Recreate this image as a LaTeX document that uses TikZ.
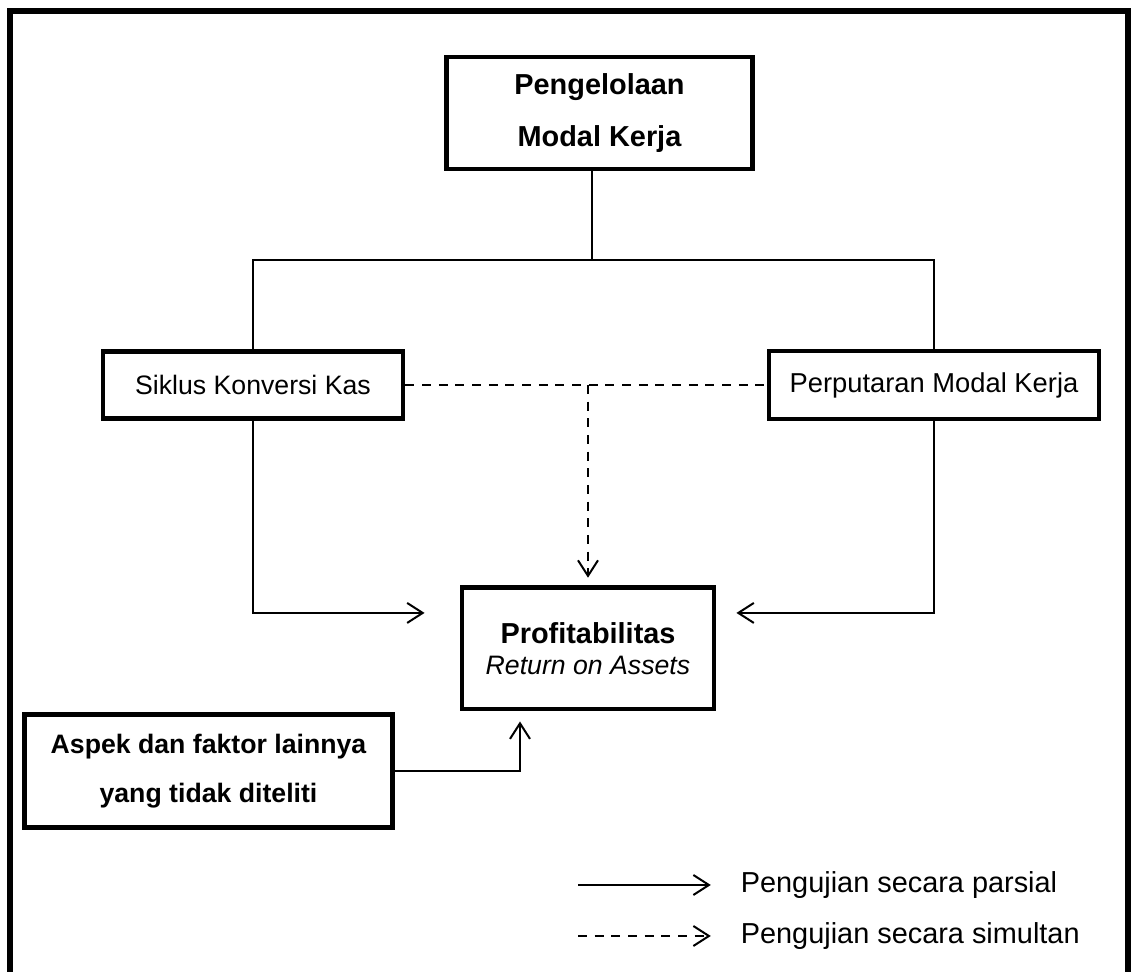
\documentclass[tikz,border=0pt]{standalone}
\usepackage{fontspec}
\setmainfont{Liberation Sans}
\usetikzlibrary{arrows.meta}

\begin{document}
\begin{tikzpicture}[x=0.45pt,y=-0.45pt,
  kotak/.style={draw,line width=2.2pt,align=center,inner sep=0pt},
  garis/.style={line width=0.9pt},
  panah/.style={garis,-{Straight Barb[length=7pt,width=9pt]}},
  putus/.style={dash pattern=on 4pt off 3.5pt}]
\useasboundingbox[fill=white] (0,0) rectangle (1131,972);
%bingkai
  \draw[line width=2.4pt] (10,980) -- (10,11) -- (1128,11) -- (1128,980);
%variabel
  \node[kotak,minimum width=138pt,minimum height=50.4pt,font=\fontsize{13}{23}\selectfont\bfseries] (kelola) at (599.5,113) {Pengelolaan\\Modal Kerja};
  \node[kotak,minimum width=135pt,minimum height=30.2pt,font=\fontsize{12}{14}\selectfont] (siklus) at (253,385) {Siklus Konversi Kas};
  \node[kotak,minimum width=148.5pt,minimum height=30.6pt,font=\fontsize{12.3}{14}\selectfont] (putar) at (934,385) {Perputaran Modal Kerja};
  \node[kotak,minimum width=113.4pt,minimum height=54.5pt,font=\fontsize{12}{14}\selectfont] (roa) at (588,648.5) {{\fontsize{13}{14}\selectfont\bfseries Profitabilitas}\\\textit{Return on Assets}};
  \node[kotak,minimum width=165.2pt,minimum height=50.9pt,font=\fontsize{12}{22}\selectfont\bfseries] (aspek) at (208.5,771) {Aspek dan faktor lainnya\\yang tidak diteliti};
  \coordinate (cabang) at (592,260);
%hubungan
  \draw[garis] (kelola.south -| cabang) -- (cabang);
  \draw[garis] (siklus.north) -- (siklus.north |- cabang) -- (putar.north |- cabang) -- (putar.north);
  \draw[garis,putus] (siklus.east) -- (putar.west);
  \draw[panah,putus,shorten >=3.5pt] (siklus.east -| roa.north) -- (roa.north);
  \draw[panah,shorten >=15.75pt] (siklus.south) |- ([yshift=16pt]roa.west);
  \draw[panah,shorten >=9pt] (putar.south) |- ([yshift=16pt]roa.east);
  \draw[panah,shorten >=4.5pt] (aspek.east) -| ([xshift=-30.6pt]roa.south);
%keterangan
  \node[anchor=west,font=\fontsize{13}{15}\selectfont] (parsial) at (733,885) {Pengujian secara parsial};
  \node[anchor=west,font=\fontsize{13}{15}\selectfont] (simultan) at (733,936) {Pengujian secara simultan};
  \coordinate (ujung1) at (578,885);
  \coordinate (ujung2) at (578,936);
  \draw[panah,shorten >=10pt] (ujung1) -- (parsial.west);
  \draw[panah,putus,shorten >=10pt] (ujung2) -- (simultan.west);
\end{tikzpicture}
\end{document}
